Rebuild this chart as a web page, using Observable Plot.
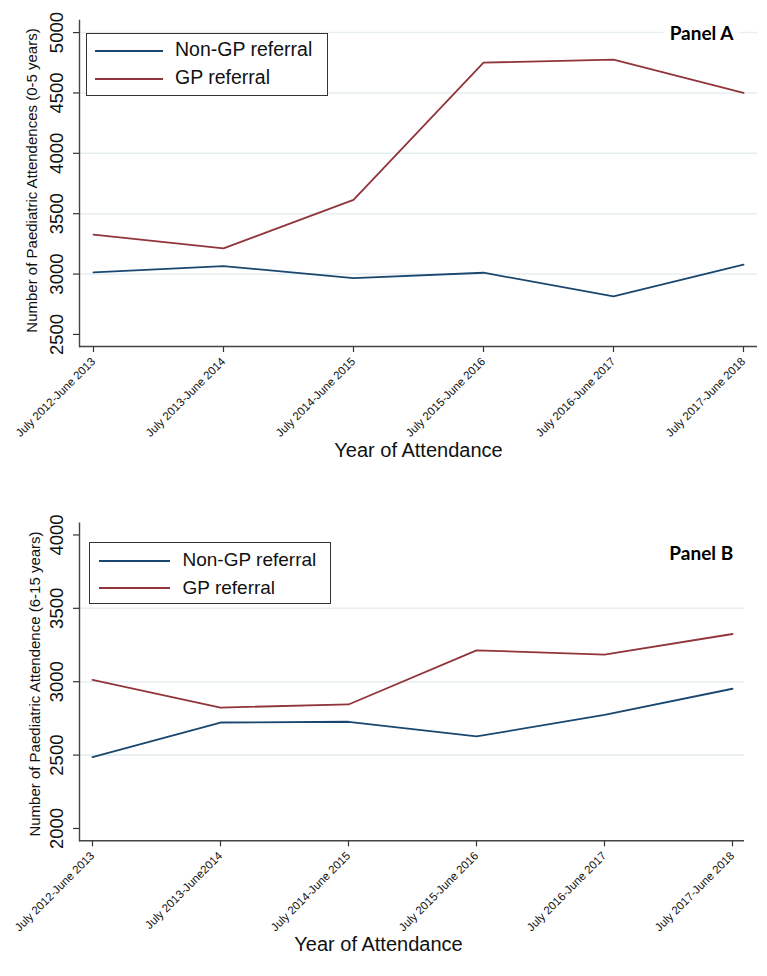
<!DOCTYPE html>
<html><head><meta charset="utf-8">
<script src="https://cdn.jsdelivr.net/npm/d3@7"></script>
<script src="https://cdn.jsdelivr.net/npm/@observablehq/plot@0.6"></script>
<style>
body{margin:0;background:#fff;font-family:"Liberation Sans",Arial,sans-serif;}
.panel{position:relative;width:767px;overflow:hidden;}
.legend{position:absolute;border:1.3px solid #333;background:#fff;box-sizing:border-box;}
.legend .ln{position:absolute;height:0;border-top:2px solid;}
.legend .tx{position:absolute;line-height:1;color:#111;white-space:nowrap;}
</style></head><body>
<div id="a" class="panel"></div>
<div id="b" class="panel"></div>
<script>
const yearsA = ["July 2012-June 2013","July 2013-June 2014","July 2014-June 2015","July 2015-June 2016","July 2016-June 2017","July 2017-June 2018"];
const yearsB = ["July 2012-June 2013","July 2013-June2014","July 2014-June 2015","July 2015-June 2016","July 2016-June 2017","July 2017-June 2018"];
const series = ["Non-GP referral","GP referral"];
const colors = ["#1a476f","#90353b"];
const nonGpA = [3014,3066,2967,3011,2815,3078];
const gpA = [3326,3213,3614,4751,4776,4500];
const nonGpB = [2486,2722,2727,2627,2774,2952];
const gpB = [3012,2824,2845,3214,3184,3325];
const ticksA = [2500,3000,3500,4000,4500,5000];
const gridA = [3000,3500,4000,4500,5000];
const ticksB = [2000,2500,3000,3500,4000];
const gridB = [2500,3000,3500];
const xTitle = "Year of Attendance";

const FONT = '"Liberation Sans", Arial, sans-serif';

function panel(o){
  const data = o.years.flatMap((yr,i)=>[
    {year:yr, value:o.nonGp[i], s:series[0]},
    {year:yr, value:o.gp[i], s:series[1]}
  ]);
  return Plot.plot({
    width:767, height:o.height,
    marginTop:o.mt, marginBottom:o.mb, marginLeft:79, marginRight:o.mr,
    style:{fontFamily:FONT, background:"white", overflow:"visible", color:"#222"},
    x:{type:"point", domain:o.years, padding:0, insetLeft:o.insetL, insetRight:o.insetR},
    y:{domain:o.yDomain},
    color:{domain:series, range:colors},
    marks:[
      Plot.ruleY(o.grid,{stroke:"#e6eef1", strokeWidth:1.6}),
      Plot.axisY({ticks:o.ticks, tickFormat:d=>String(d), tickSize:6, tickRotate:-90, fontSize:18.5, tickPadding:11, label:null, stroke:"#333", strokeWidth:1.2, fill:"#111"}),
      Plot.axisX({tickSize:6, tickRotate:-45, fontSize:11.5, tickPadding:7, label:null, stroke:"#333", strokeWidth:1.2, fill:"#111"}),
      Plot.ruleY([o.yDomain[0]], {stroke:"#444", strokeWidth:1.4}),
      Plot.frame({anchor:"left", stroke:"#444", strokeWidth:1.4}),
      Plot.line(data,{x:"year", y:"value", stroke:"s", strokeWidth:1.8}),
      Plot.text([o.yTitle], {frameAnchor:"left", textAnchor:"middle", lineAnchor:"middle", rotate:-90, dx:o.yTitleDx, dy:o.yTitleDy, fontSize:15, fill:"#111"}),
      Plot.text([xTitle], {frameAnchor:"bottom", dx:o.xTitleDx, dy:o.xTitleDy, fontSize:20, fill:"#111"}),
      Plot.text([o.label], {frameAnchor:"top-right", textAnchor:"end", dx:o.labelDx, dy:o.labelDy,
        fontFamily:"Lato", fontWeight:"bold", fontSize:19, fill:"#000", stroke:"white", strokeWidth:16, paintOrder:"stroke"})
    ]
  });
}

function legend(container, o){
  const box = document.createElement("div");
  box.className = "legend";
  Object.assign(box.style,{left:o.left+"px", top:o.top+"px", width:o.w+"px", height:o.h+"px"});
  series.forEach((s,i)=>{
    const ln = document.createElement("div");
    ln.className="ln";
    Object.assign(ln.style,{left:o.lx+"px", width:o.lw+"px", top:(o.ly[i]-1)+"px", borderTopColor:colors[i]});
    const tx = document.createElement("div");
    tx.className="tx";
    tx.textContent = s;
    Object.assign(tx.style,{left:o.tx+"px", top:(o.ly[i]-o.fs*0.55)+"px", fontSize:o.fs+"px"});
    box.appendChild(ln); box.appendChild(tx);
  });
  container.appendChild(box);
}

const A = document.getElementById("a");
A.style.height="490px";
A.appendChild(panel({
  years:yearsA, nonGp:nonGpA, gp:gpA, yDomain:[2400,5100], ticks:ticksA, grid:gridA,
  yTitle:"Number of Paediatric Attendences (0-5 years)", label:"Panel A",
  height:490, mt:20, mb:144, mr:10, insetL:12, insetR:12.7,
  yTitleDx:-47.5, yTitleDy:-3, xTitleDx:0, xTitleDy:110.7, labelDx:-24, labelDy:5.6
}));
legend(A,{left:86, top:33, w:242, h:63, lx:8, lw:68, ly:[17,45], tx:88, fs:19.5});

const B = document.getElementById("b");
B.style.height="486px";
B.appendChild(panel({
  years:yearsB, nonGp:nonGpB, gp:gpB, yDomain:[1916,4080], ticks:ticksB, grid:gridB,
  yTitle:"Number of Paediatric Attendence (6-15 years)", label:"Panel B",
  height:486, mt:32.7, mb:135.7, mr:23, insetL:12, insetR:11.7,
  yTitleDx:-44, yTitleDy:2, xTitleDx:-33.5, xTitleDy:109.7, labelDx:-11.3, labelDy:23.5
}));
legend(B,{left:89, top:52.3, w:242, h:62, lx:8.5, lw:71.6, ly:[17.5,45], tx:92.5, fs:19});
</script>
</body></html>
